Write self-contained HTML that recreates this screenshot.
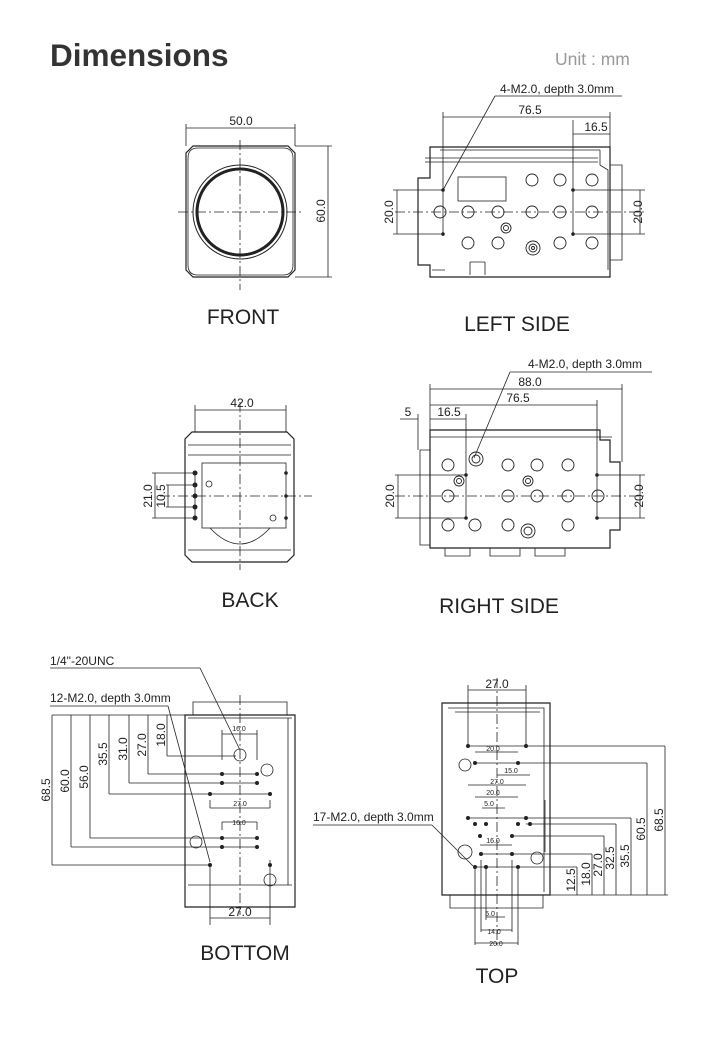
<!DOCTYPE html>
<html><head><meta charset="utf-8"><style>
html,body{margin:0;padding:0;background:#fff;}
svg{display:block;}
text{font-family:"Liberation Sans",sans-serif;}
</style></head><body>
<svg width="718" height="1052" viewBox="0 0 718 1052" xmlns="http://www.w3.org/2000/svg">
<text x="50" y="66" font-size="31.5" font-weight="bold" fill="#333">Dimensions</text>
<text x="555" y="65" font-size="17.5" fill="#999">Unit : mm</text>

<g fill="none" stroke="#222" stroke-width="0.8">
<!-- FRONT -->
<path d="M193 146 H288 L295 153 V270 L288 277 H193 L186 270 V153 Z" stroke-width="1.2"/>
<path d="M198 148 H283 Q293 148 293 158 V265 Q293 275 283 275 H198 Q188 275 188 265 V158 Q188 148 198 148Z"/>
<circle cx="240" cy="212" r="47" stroke-width="1"/>
<circle cx="240" cy="212" r="43" stroke-width="3"/>
<line x1="178" y1="212" x2="302" y2="212" stroke-dasharray="10 3 2 3"/>
<line x1="240" y1="140" x2="240" y2="290" stroke-dasharray="10 3 2 3"/>
<line x1="186" y1="124" x2="186" y2="146"/><line x1="295" y1="124" x2="295" y2="146"/>
<line x1="186" y1="128" x2="295" y2="128"/>
<line x1="295" y1="146" x2="332" y2="146"/><line x1="295" y1="277" x2="332" y2="277"/>
<line x1="328" y1="146" x2="328" y2="277"/>

<!-- LEFT SIDE -->
<path d="M430 147 H610 V277 H430 V265 H418 V178 H430 Z" stroke-width="1.2"/>
<path d="M440 150 H600 M425 158 H598 M425 162 H598 M600 150 V165 L608 170 V270"/>
<path d="M610 165 H622 V260 H610"/>
<path d="M432 270 H445 M470 262 V275 M485 262 V275 M470 262 H485"/>
<rect x="458" y="177" width="48" height="24"/>
<g stroke-width="0.9">
<circle cx="532" cy="180" r="6"/><circle cx="560" cy="180" r="6"/><circle cx="592" cy="180" r="6"/>
<circle cx="440" cy="212" r="6"/><circle cx="468" cy="212" r="6"/><circle cx="498" cy="212" r="6"/><circle cx="532" cy="212" r="6"/><circle cx="560" cy="212" r="6"/><circle cx="592" cy="212" r="6"/>
<circle cx="468" cy="243" r="6"/><circle cx="498" cy="243" r="6"/><circle cx="560" cy="243" r="6"/><circle cx="592" cy="243" r="6"/>
<circle cx="506" cy="228" r="5"/><circle cx="506" cy="228" r="2.5"/>
<circle cx="533" cy="248" r="7"/><circle cx="533" cy="248" r="4"/><circle cx="533" cy="248" r="1.5"/>
</g>
<line x1="395" y1="212" x2="645" y2="212" stroke-dasharray="10 3 2 3"/>
<line x1="443" y1="112" x2="443" y2="236"/><line x1="573" y1="120" x2="573" y2="236"/><line x1="610" y1="112" x2="610" y2="147"/>
<line x1="443" y1="117" x2="610" y2="117"/><line x1="573" y1="134" x2="610" y2="134"/>
<line x1="393" y1="190" x2="443" y2="190"/><line x1="393" y1="234" x2="443" y2="234"/><line x1="397" y1="190" x2="397" y2="234"/>
<line x1="573" y1="190" x2="645" y2="190"/><line x1="573" y1="234" x2="645" y2="234"/><line x1="640" y1="190" x2="640" y2="234"/>
<line x1="495" y1="96" x2="622" y2="96"/><line x1="495" y1="96" x2="443" y2="190"/>

<!-- BACK -->
<path d="M192 432 H287 L294 439 V555 L287 562 H192 L185 555 V439 Z" stroke-width="1.2"/>
<path d="M188 445 H291 M188 455 H291 M188 550 H291"/>
<rect x="202" y="463" width="84" height="65"/>
<path d="M210 528 Q240 560 270 528"/>
<line x1="195" y1="473" x2="195" y2="518"/>
<line x1="240" y1="402" x2="240" y2="570" stroke-dasharray="10 3 2 3"/>
<line x1="160" y1="496" x2="312" y2="496" stroke-dasharray="10 3 2 3"/>
<line x1="195" y1="405" x2="195" y2="432"/><line x1="286" y1="405" x2="286" y2="432"/>
<line x1="195" y1="410" x2="286" y2="410"/>
<line x1="152" y1="473" x2="195" y2="473"/><line x1="152" y1="518" x2="195" y2="518"/><line x1="155" y1="473" x2="155" y2="518"/>
<line x1="166" y1="485" x2="195" y2="485"/><line x1="166" y1="507" x2="195" y2="507"/><line x1="168" y1="485" x2="168" y2="507"/>
<circle cx="209" cy="484" r="3"/><circle cx="273" cy="518" r="3"/>

<!-- RIGHT SIDE -->
<path d="M430 430 H600 V440 H610 V462 H620 V530 H610 V548 H430 Z" stroke-width="1.2"/>
<path d="M430 437 H612 M420 450 H430 V545 H420 Z"/>
<path d="M445 548 V556 H470 V548 M490 548 V556 H520 V548 M535 548 V556 H565 V548"/>
<g stroke-width="0.9">
<circle cx="448" cy="465" r="6"/><circle cx="508" cy="465" r="6"/><circle cx="537" cy="465" r="6"/><circle cx="568" cy="465" r="6"/>
<circle cx="448" cy="496" r="6"/><circle cx="508" cy="496" r="6"/><circle cx="537" cy="496" r="6"/><circle cx="568" cy="496" r="6"/><circle cx="598" cy="496" r="6"/>
<circle cx="448" cy="525" r="6"/><circle cx="475" cy="525" r="6"/><circle cx="508" cy="525" r="6"/><circle cx="568" cy="525" r="6"/>
<circle cx="476" cy="459" r="7"/><circle cx="476" cy="459" r="4"/>
<circle cx="459" cy="481" r="5"/><circle cx="459" cy="481" r="2.5"/>
<circle cx="528" cy="481" r="5"/><circle cx="528" cy="481" r="2.5"/>
<circle cx="528" cy="531" r="7"/><circle cx="528" cy="531" r="4"/>
</g>
<line x1="395" y1="496" x2="645" y2="496" stroke-dasharray="10 3 2 3"/>
<line x1="430" y1="384" x2="430" y2="430"/><line x1="622" y1="384" x2="622" y2="462"/><line x1="597" y1="400" x2="597" y2="518"/><line x1="466" y1="414" x2="466" y2="518"/><line x1="418" y1="414" x2="418" y2="450"/>
<line x1="430" y1="389" x2="622" y2="389"/><line x1="430" y1="405" x2="597" y2="405"/><line x1="430" y1="419" x2="466" y2="419"/><line x1="400" y1="419" x2="418" y2="419"/>
<line x1="395" y1="475" x2="466" y2="475"/><line x1="395" y1="518" x2="466" y2="518"/><line x1="398" y1="475" x2="398" y2="518"/>
<line x1="597" y1="475" x2="645" y2="475"/><line x1="597" y1="518" x2="645" y2="518"/><line x1="640" y1="475" x2="640" y2="518"/>
<line x1="510" y1="372" x2="652" y2="372"/><line x1="510" y1="372" x2="474" y2="458"/>

<!-- BOTTOM -->
<path d="M185 715 H295 V907 H185 Z" stroke-width="1.2"/>
<path d="M193 715 V702 H287 V715"/>
<path d="M188 718 H292 M188 885 H292 M288 718 V885"/>
<circle cx="240" cy="755" r="6"/>
<line x1="240" y1="695" x2="240" y2="915" stroke-dasharray="10 3 2 3"/>
<line x1="52" y1="715" x2="185" y2="715"/>
<line x1="52" y1="715" x2="52" y2="865"/><line x1="71" y1="715" x2="71" y2="847"/><line x1="90" y1="715" x2="90" y2="838"/><line x1="109" y1="715" x2="109" y2="794"/><line x1="129" y1="715" x2="129" y2="783"/><line x1="148" y1="715" x2="148" y2="774"/><line x1="167" y1="715" x2="167" y2="756"/>
<line x1="167" y1="756" x2="236" y2="756"/><line x1="148" y1="774" x2="257" y2="774"/><line x1="129" y1="783" x2="257" y2="783"/><line x1="109" y1="794" x2="270" y2="794"/><line x1="90" y1="838" x2="257" y2="838"/><line x1="71" y1="847" x2="257" y2="847"/><line x1="52" y1="865" x2="210" y2="865"/>
<line x1="222" y1="730" x2="222" y2="760"/><line x1="257" y1="730" x2="257" y2="760"/><line x1="222" y1="734" x2="257" y2="734"/>
<line x1="210" y1="800" x2="210" y2="808"/><line x1="270" y1="800" x2="270" y2="808"/><line x1="210" y1="808" x2="270" y2="808"/>
<line x1="222" y1="822" x2="257" y2="822"/><line x1="222" y1="822" x2="222" y2="830"/><line x1="257" y1="822" x2="257" y2="830"/>
<line x1="210" y1="865" x2="210" y2="925"/><line x1="270" y1="860" x2="270" y2="925"/><line x1="210" y1="918" x2="270" y2="918"/>
<line x1="50" y1="668" x2="200" y2="668"/><line x1="200" y1="668" x2="240" y2="750"/>
<line x1="50" y1="706" x2="168" y2="706"/><line x1="168" y1="706" x2="210" y2="862"/>
<circle cx="196" cy="842" r="6"/><circle cx="267" cy="770" r="6"/><circle cx="270" cy="880" r="6"/>

<!-- TOP -->
<path d="M442 703 H550 V895 H442 Z" stroke-width="1.2"/>
<path d="M450 895 V908 H543 V895"/>
<path d="M448 708 H544 V892 M455 712 H540"/>
<line x1="497" y1="678" x2="497" y2="945" stroke-dasharray="10 3 2 3"/>
<line x1="468" y1="685" x2="468" y2="745"/><line x1="526" y1="685" x2="526" y2="745"/><line x1="468" y1="690" x2="526" y2="690"/>
<line x1="577" y1="895" x2="577" y2="867"/><line x1="592" y1="895" x2="592" y2="854"/><line x1="604" y1="895" x2="604" y2="836"/><line x1="616" y1="895" x2="616" y2="824"/><line x1="631" y1="895" x2="631" y2="818"/><line x1="647" y1="895" x2="647" y2="763"/><line x1="665" y1="895" x2="665" y2="746"/>
<line x1="550" y1="895" x2="668" y2="895"/>
<line x1="468" y1="746" x2="665" y2="746"/><line x1="475" y1="763" x2="647" y2="763"/><line x1="468" y1="818" x2="631" y2="818"/><line x1="526" y1="824" x2="616" y2="824"/><line x1="512" y1="836" x2="604" y2="836"/><line x1="482" y1="854" x2="592" y2="854"/><line x1="474" y1="867" x2="577" y2="867"/>
<line x1="475" y1="752" x2="518" y2="752"/><line x1="497" y1="775" x2="530" y2="775"/><line x1="468" y1="785" x2="526" y2="785"/><line x1="475" y1="797" x2="518" y2="797"/><line x1="482" y1="808" x2="505" y2="808"/><line x1="480" y1="845" x2="512" y2="845"/>
<line x1="475" y1="867" x2="475" y2="945"/><line x1="481" y1="860" x2="481" y2="932"/><line x1="486" y1="867" x2="486" y2="920"/><line x1="518" y1="867" x2="518" y2="945"/><line x1="512" y1="860" x2="512" y2="932"/>
<line x1="486" y1="917" x2="505" y2="917"/><line x1="481" y1="930" x2="512" y2="930"/><line x1="475" y1="943" x2="518" y2="943"/>
<line x1="313" y1="825" x2="432" y2="825"/><line x1="432" y1="825" x2="473" y2="866"/>
<circle cx="465" cy="765" r="6"/><circle cx="465" cy="852" r="7"/><circle cx="537" cy="858" r="6"/>
<line x1="545" y1="800" x2="545" y2="852"/>
</g>
<g fill="#222">
<circle cx="443" cy="190" r="1.8"/><circle cx="443" cy="234" r="1.8"/><circle cx="573" cy="190" r="1.8"/><circle cx="573" cy="234" r="1.8"/>
<circle cx="466" cy="475" r="1.8"/><circle cx="466" cy="518" r="1.8"/><circle cx="597" cy="475" r="1.8"/><circle cx="597" cy="518" r="1.8"/>
<circle cx="195" cy="473" r="2.5"/><circle cx="195" cy="485" r="2.5"/><circle cx="195" cy="496" r="2.5"/><circle cx="195" cy="507" r="2.5"/><circle cx="195" cy="518" r="2.5"/>
<circle cx="286" cy="473" r="1.8"/><circle cx="286" cy="496" r="1.8"/><circle cx="286" cy="518" r="1.8"/>
<circle cx="222" cy="774" r="2"/><circle cx="257" cy="774" r="2"/><circle cx="222" cy="783" r="2"/><circle cx="257" cy="783" r="2"/><circle cx="210" cy="794" r="2"/><circle cx="270" cy="794" r="2"/>
<circle cx="222" cy="838" r="2"/><circle cx="257" cy="838" r="2"/><circle cx="222" cy="847" r="2"/><circle cx="257" cy="847" r="2"/><circle cx="210" cy="865" r="2"/><circle cx="270" cy="865" r="2"/>
<circle cx="468" cy="746" r="2"/><circle cx="526" cy="746" r="2"/><circle cx="475" cy="763" r="2"/><circle cx="518" cy="763" r="2"/>
<circle cx="468" cy="818" r="2"/><circle cx="526" cy="818" r="2"/><circle cx="475" cy="824" r="2"/><circle cx="486" cy="824" r="2"/><circle cx="518" cy="824" r="2"/><circle cx="530" cy="824" r="2"/>
<circle cx="480" cy="836" r="2"/><circle cx="512" cy="836" r="2"/><circle cx="481" cy="854" r="2"/><circle cx="512" cy="854" r="2"/><circle cx="475" cy="867" r="2"/><circle cx="486" cy="867" r="2"/><circle cx="518" cy="867" r="2"/>
</g>

<g font-size="12" fill="#222" text-anchor="middle">
<text x="241" y="125">50.0</text>
<text transform="translate(325 211) rotate(-90)">60.0</text>
<text x="530" y="114">76.5</text>
<text x="596" y="131">16.5</text>
<text transform="translate(393 212) rotate(-90)">20.0</text>
<text transform="translate(642 212) rotate(-90)">20.0</text>
<text x="242" y="407">42.0</text>
<text transform="translate(152 496) rotate(-90)">21.0</text>
<text transform="translate(165 496) rotate(-90)">10.5</text>
<text x="530" y="386">88.0</text>
<text x="518" y="402">76.5</text>
<text x="449" y="416">16.5</text>
<text x="408" y="416">5</text>
<text transform="translate(394 496) rotate(-90)">20.0</text>
<text transform="translate(643 496) rotate(-90)">20.0</text>
<text transform="translate(50 790) rotate(-90)">68.5</text>
<text transform="translate(69 781) rotate(-90)">60.0</text>
<text transform="translate(88 777) rotate(-90)">56.0</text>
<text transform="translate(107 754) rotate(-90)">35.5</text>
<text transform="translate(127 749) rotate(-90)">31.0</text>
<text transform="translate(146 745) rotate(-90)">27.0</text>
<text transform="translate(165 735) rotate(-90)">18.0</text>
<text x="240" y="916">27.0</text>
<text x="497" y="688">27.0</text>
<text transform="translate(575 880) rotate(-90)">12.5</text>
<text transform="translate(590 874) rotate(-90)">18.0</text>
<text transform="translate(602 865) rotate(-90)">27.0</text>
<text transform="translate(614 858) rotate(-90)">32.5</text>
<text transform="translate(629 856) rotate(-90)">35.5</text>
<text transform="translate(645 829) rotate(-90)">60.5</text>
<text transform="translate(663 820) rotate(-90)">68.5</text>
</g>
<g font-size="7" fill="#222" text-anchor="middle">
<text x="239" y="731">16.0</text><text x="240" y="806">27.0</text><text x="239" y="825">16.0</text>
<text x="493" y="751">20.0</text><text x="511" y="773">15.0</text><text x="497" y="784">27.0</text><text x="493" y="795">20.0</text><text x="489" y="806">5.0</text><text x="493" y="843">16.0</text>
<text x="490" y="916">5.0</text><text x="494" y="934">14.0</text><text x="496" y="946">20.0</text>
</g>
<g font-size="12" fill="#222">
<text x="500" y="93">4-M2.0, depth 3.0mm</text>
<text x="528" y="368">4-M2.0, depth 3.0mm</text>
<text x="50" y="665">1/4"-20UNC</text>
<text x="50" y="702">12-M2.0, depth 3.0mm</text>
<text x="313" y="821">17-M2.0, depth 3.0mm</text>
</g>
<g font-size="21" fill="#222" text-anchor="middle">
<text x="243" y="324">FRONT</text>
<text x="517" y="331">LEFT SIDE</text>
<text x="250" y="607">BACK</text>
<text x="499" y="613">RIGHT SIDE</text>
<text x="245" y="960">BOTTOM</text>
<text x="497" y="983">TOP</text>
</g>
</svg>
</body></html>
